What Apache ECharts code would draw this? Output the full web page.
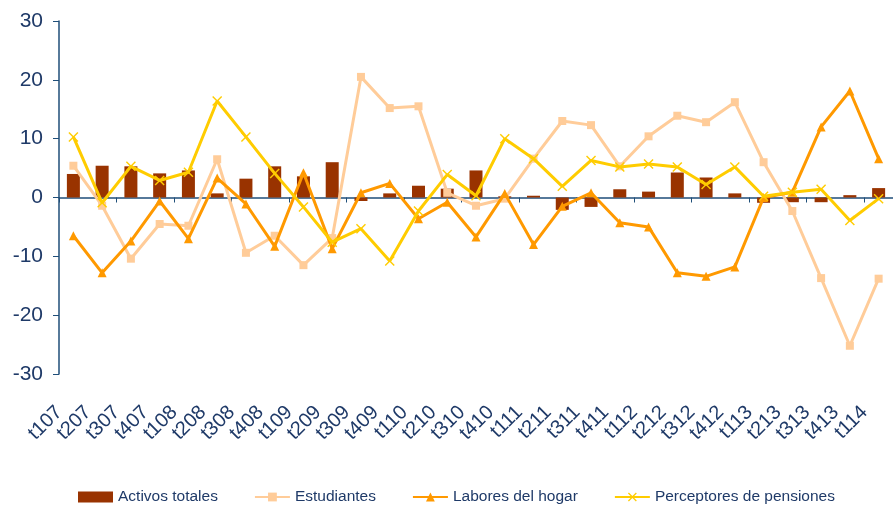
<!DOCTYPE html>
<html><head><meta charset="utf-8">
<script src="https://cdn.jsdelivr.net/npm/echarts@6/dist/echarts.min.js"></script>
<style>html,body{margin:0;padding:0;background:#fff}#c{width:893px;height:505px}</style>
</head><body><div id="c"></div>
<script>
const categories = ['t107','t207','t307','t407','t108','t208','t308','t408','t109','t209','t309','t409','t110','t210','t310','t410','t111','t211','t311','t411','t112','t212','t312','t412','t113','t213','t313','t413','t114'];
const activosTotales = [4.0,5.4,5.3,4.1,4.6,0.7,3.2,5.3,3.6,6.0,-0.6,0.7,2.0,1.5,4.6,0.2,0.3,-2.1,-1.6,1.4,1.0,4.25,3.4,0.7,-0.9,-0.8,-0.8,0.4,1.6];
const estudiantes = [5.4,-1.4,-10.4,-4.5,-4.8,6.5,-9.4,-6.5,-11.5,-6.9,20.5,15.2,15.5,0.8,-1.4,-0.2,6.6,13.0,12.3,5.3,10.4,13.9,12.8,16.2,6.0,-2.3,-13.7,-25.2,-13.8];
const laboresHogar = [-6.5,-12.8,-7.4,-0.6,-7.0,3.3,-1.1,-8.3,4.2,-8.7,0.8,2.4,-3.6,-0.8,-6.7,0.7,-8.0,-1.5,0.8,-4.3,-5.0,-12.8,-13.4,-11.8,0.0,0.9,12.0,18.1,6.6];
const pensiones = [10.3,-0.9,5.3,2.9,4.3,16.4,10.3,4.1,-1.6,-7.6,-5.3,-10.8,-2.3,3.9,0.3,10.0,6.6,1.9,6.3,5.2,5.7,5.2,2.2,5.2,0.2,0.9,1.4,-3.9,-0.2];
const yTicks = [-30,-20,-10,0,10,20,30];

const navy = '#1F3A68';
const font = 'Liberation Sans, Arial, sans-serif';
const xPath = 'path://M0,1L1,0L5,4L9,0L10,1L6,5L10,9L9,10L5,6L1,10L0,9L4,5Z';

const chart = echarts.init(document.getElementById('c'));
chart.setOption({
  animation: false,
  backgroundColor: '#fff',
  textStyle: {fontFamily: font},
  grid: {left: 59, right: -3, top: 21, bottom: 131, containLabel: false},
  legend: {
    top: 489, left: 78, padding: 0, itemGap: 36, itemWidth: 35, itemHeight: 11,
    textStyle: {color: navy, fontSize: 15.5, fontFamily: font},
    data: [
      {name: 'Activos totales', icon: 'rect'},
      {name: 'Estudiantes'},
      {name: 'Labores del hogar'},
      {name: 'Perceptores de pensiones'}
    ]
  },
  xAxis: [
    {type: 'category', data: categories, position: 'bottom',
     axisLine: {show: false, onZero: false}, axisTick: {show: false},
     axisLabel: {rotate: 45, color: navy, fontSize: 20, margin: 21, padding: [0, 20, 0, 0], interval: 0, fontFamily: font}},
    {type: 'category', data: categories, position: 'bottom',
     axisLine: {show: true, onZero: true, lineStyle: {color: '#1F4E79', width: 1.5}},
     axisTick: {show: true, length: 5, inside: false, alignWithLabel: false, lineStyle: {color: '#1F4E79'}},
     axisLabel: {show: false}}
  ],
  yAxis: {
    type: 'value', min: -30, max: 30, interval: 10,
    axisLine: {show: true, lineStyle: {color: '#1F4E79', width: 1.5}},
    axisTick: {show: true, length: 6, lineStyle: {color: '#1F4E79'}},
    splitLine: {show: false},
    axisLabel: {color: navy, fontSize: 21, margin: 16, fontFamily: font,
      formatter: v => yTicks.includes(v) ? String(v) : ''}
  },
  series: [
    {name: 'Activos totales', type: 'bar', data: activosTotales, barWidth: 13,
     itemStyle: {color: '#993300'}, z: 1},
    {name: 'Estudiantes', type: 'line', data: estudiantes, symbol: 'rect', symbolSize: 8,
     lineStyle: {color: '#FFCC99', width: 3}, itemStyle: {color: '#FFCC99'}, z: 2},
    {name: 'Labores del hogar', type: 'line', data: laboresHogar, symbol: 'triangle', symbolSize: 9,
     lineStyle: {color: '#FF9900', width: 3}, itemStyle: {color: '#FF9900'}, z: 3},
    {name: 'Perceptores de pensiones', type: 'line', data: pensiones, symbol: xPath, symbolSize: 10,
     lineStyle: {color: '#FFCC00', width: 3}, itemStyle: {color: '#FFCC00'}, z: 4}
  ]
});
</script></body></html>
